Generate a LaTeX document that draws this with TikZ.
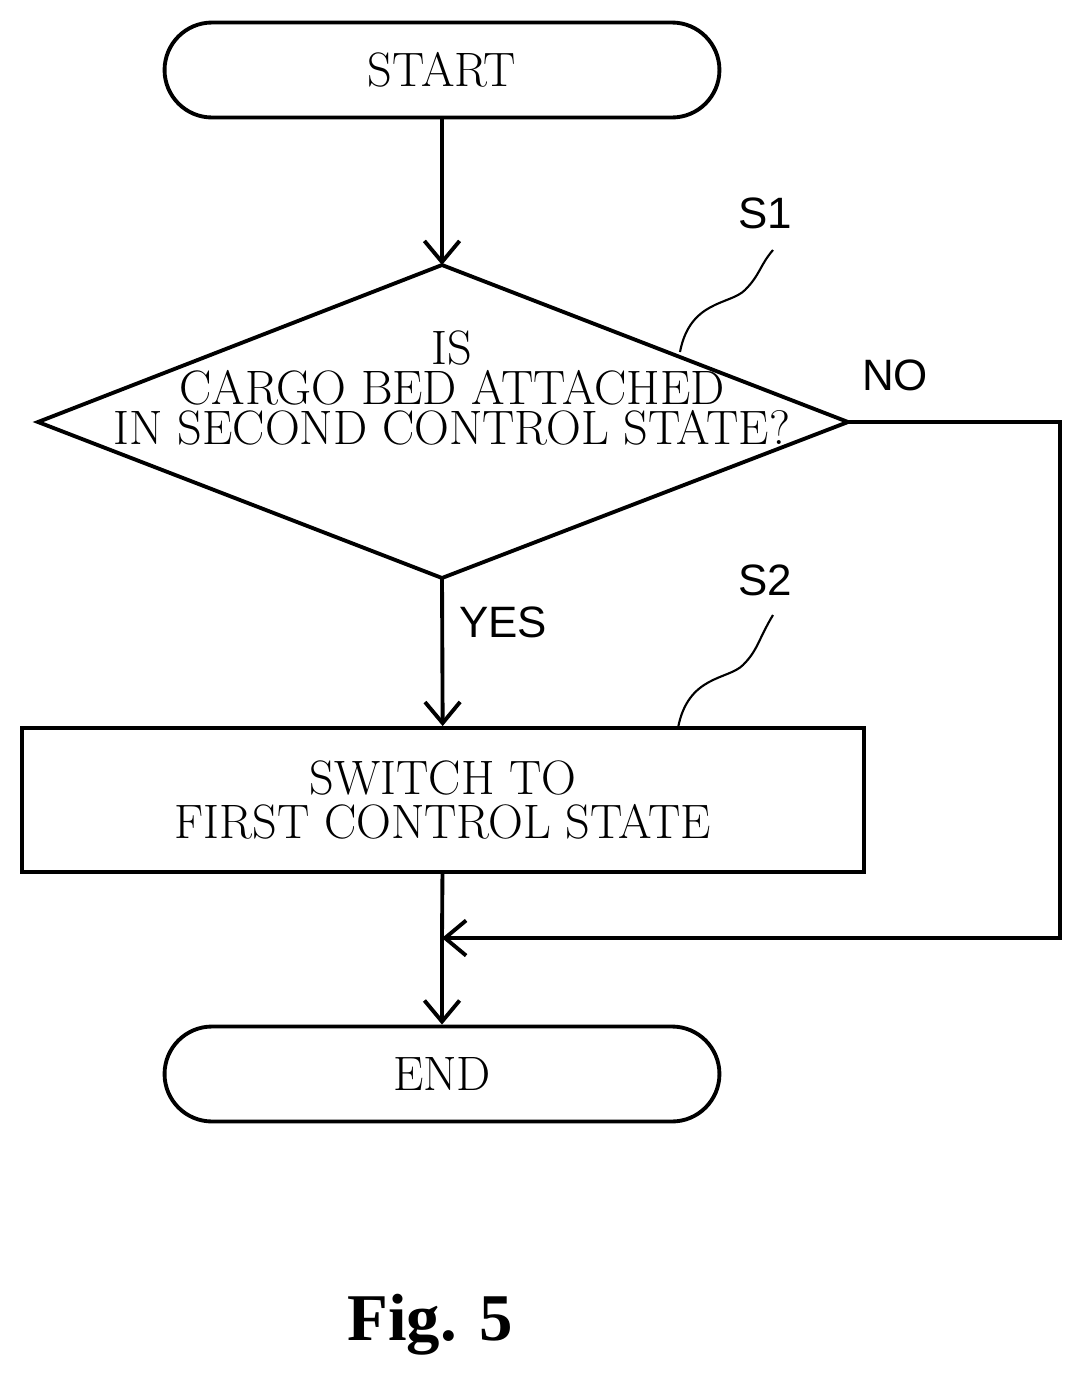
\documentclass[tikz,border=0pt]{standalone}
\usepackage{fontspec}
\newfontfamily\labfont{Liberation Sans}
\newfontfamily\figfont{Liberation Serif}
\usetikzlibrary{arrows.meta,shapes,positioning}
\begin{document}
\begin{tikzpicture}[x=0.02cm,y=-0.02cm,
    line width=2.2pt, >={Straight Barb[length=12pt,width=20pt]},
    every node/.style={font=\fontsize{27.5}{27}\selectfont},
    term/.style={draw, rounded corners=0.95cm, minimum width=11.1cm, minimum height=1.9cm},
    process/.style={draw, minimum width=16.86cm, minimum height=2.88cm, align=center},
    lab/.style={font=\labfont\fontsize{25}{30}\selectfont}]
	\useasboundingbox (0,0) rectangle (1083,1384);
	\node [term] (start) at (442,70) {START};
	\coordinate (dtop) at (442,265);
	\coordinate (dleft) at (38,422);
	\coordinate (dright) at (848,422);
	\coordinate (dbot) at (442,578);
	\draw (dtop) -- (dright) -- (dbot) -- (dleft) -- cycle;
	\node [align=center, font=\fontsize{27.5}{22.5}\selectfont] (q) at (452,388) {IS\\CARGO BED ATTACHED\\IN SECOND CONTROL STATE?};
	\node [process, font=\fontsize{27.5}{25}\selectfont] (sw) at (443,800) {SWITCH TO\\FIRST CONTROL STATE};
	\node [term] (end) at (442,1074) {END};
	\coordinate (nr) at (1060,422);
	\coordinate (nb) at (1060,938);
	\coordinate (join) at (442,938);
	\draw [->] (start) -- (dtop);
	\draw [->] (dbot) -- (sw);
	\draw (sw) -- (join);
	\draw [->] (join) -- (end);
	\draw [->] (dright) -- (nr) -- (nb) -- (join);
	\node [lab] (no) at (895,375) {NO};
	\node [lab] (yes) at (503,622) {YES};
	\node [lab] (s1) at (765,213) {S1};
	\node [lab] (s2) at (765,580) {S2};
	\draw [line width=1.2pt] (680,352) .. controls (690,300) and (730,305) .. (745,290) .. controls (760,275) and (760,265) .. (773,250);
	\draw [line width=1.2pt] (678,728) .. controls (688,675) and (728,680) .. (743,665) .. controls (758,650) and (758,640) .. (773,615);
	\node [font=\figfont\bfseries\fontsize{38}{44}\selectfont] (fig) at (430,1325) {Fig. 5};
\end{tikzpicture}
\end{document}
